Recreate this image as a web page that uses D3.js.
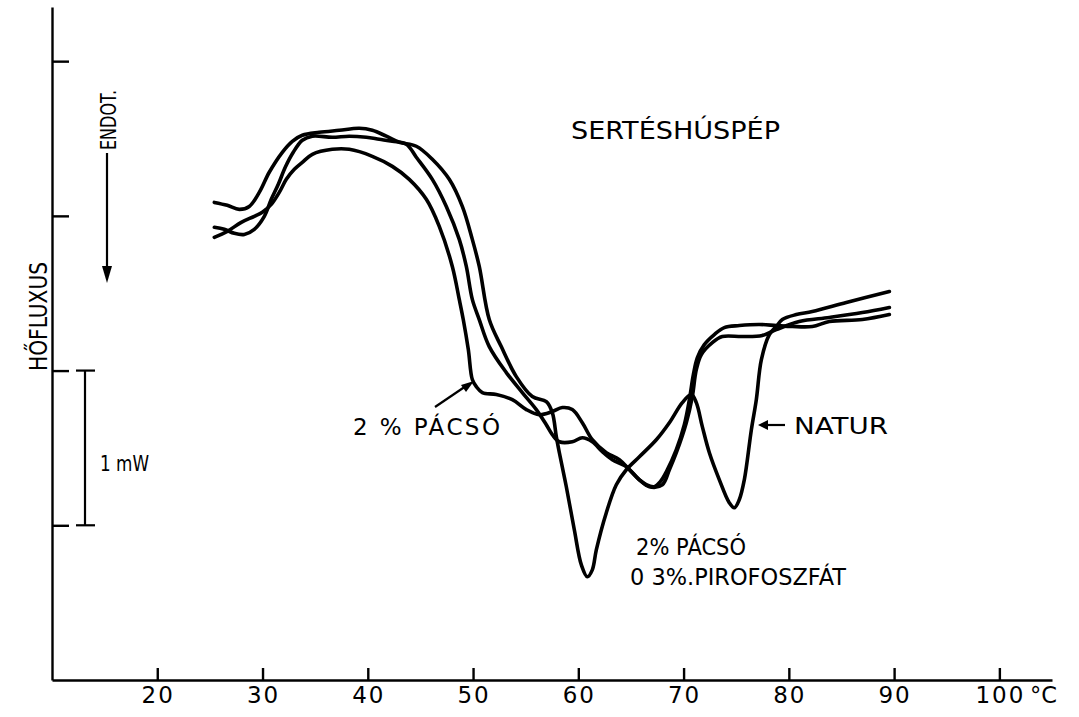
<!DOCTYPE html>
<html><head><meta charset="utf-8">
<script src="https://cdn.jsdelivr.net/npm/d3@7"></script>
<style>html,body{margin:0;padding:0;background:#fff}svg{display:block}text{font-family:"DejaVu Sans",sans-serif;fill:#000}</style>
</head><body>
<script>
// Temperature (°C) axis ticks
const xTicks = [20, 30, 40, 50, 60, 70, 80, 90, 100];
// Heat-flux ticks (mW, unlabelled)
const yTicks = [1, 2, 3, 4];

// NATUR curve: temperature (°C) and heat flux (mW)
const naturT = [25.42,26.65,27.79,28.74,29.69,30.64,31.88,32.83,33.78,35.39,37.29,39.19,40.43,41.76,42.99,44.61,46.13,47.74,48.98,49.93,50.59,51.54,52.68,54.11,55.63,56.96,57.53,57.91,58.20,58.86,59.62,60.29,60.86,61.33,61.71,62.66,63.61,64.56,65.80,67.41,68.65,69.88,70.74,71.21,71.78,72.45,73.40,74.34,74.82,75.29,75.77,76.44,76.91,77.39,78.15,78.81,79.38,80.71,82.23,85.46,89.55];
const naturV = [3.087,3.068,3.042,3.061,3.152,3.282,3.411,3.482,3.521,3.540,3.553,3.566,3.553,3.515,3.476,3.450,3.366,3.236,3.061,2.848,2.673,2.330,2.155,1.961,1.832,1.799,1.728,1.573,1.469,1.249,0.971,0.744,0.667,0.712,0.841,1.081,1.262,1.359,1.443,1.553,1.663,1.793,1.845,1.793,1.638,1.469,1.294,1.146,1.113,1.165,1.294,1.618,1.812,2.071,2.233,2.285,2.330,2.362,2.382,2.440,2.511];

// 2% PÁCSÓ + 0.3% PIROFOSZFÁT curve
const pirT = [25.42,26.37,27.32,28.27,29.22,30.17,30.83,31.50,32.16,32.92,33.78,34.73,36.63,38.24,39.86,41.09,42.33,43.66,44.61,46.13,47.46,48.69,49.36,49.93,50.59,51.54,53.16,54.68,56.01,56.96,57.53,58.20,59.43,60.38,61.33,62.28,63.23,64.56,65.80,66.75,67.98,68.65,69.31,70.26,70.83,71.21,71.69,72.73,73.68,75.58,77.48,78.81,80.99,83.85,86.98,89.55];
const pirV = [2.926,2.913,2.887,2.880,2.913,2.997,3.107,3.204,3.314,3.411,3.489,3.515,3.508,3.515,3.508,3.495,3.482,3.463,3.379,3.236,3.061,2.848,2.673,2.460,2.330,2.155,1.987,1.858,1.748,1.650,1.586,1.540,1.540,1.566,1.540,1.476,1.424,1.379,1.294,1.249,1.262,1.359,1.469,1.663,1.832,2.006,2.104,2.181,2.220,2.220,2.227,2.265,2.317,2.343,2.375,2.408];

// 2% PÁCSÓ curve
const pacsoT = [25.42,26.65,27.98,29.22,29.98,30.83,31.59,32.26,33.02,33.78,34.73,36.63,38.24,40.43,42.33,43.94,45.56,46.79,48.03,48.69,49.07,49.55,49.93,50.31,50.88,52.21,53.73,55.06,56.29,57.53,58.48,59.43,60.38,61.33,62.66,63.90,64.85,65.80,66.46,67.22,67.79,68.36,69.31,70.07,70.55,70.93,71.31,71.97,72.92,73.87,75.30,77.20,78.81,80.33,82.23,83.85,86.98,89.55];
const pacsoV = [2.861,2.900,2.958,2.997,3.023,3.074,3.152,3.236,3.301,3.346,3.398,3.430,3.430,3.385,3.320,3.236,3.107,2.932,2.673,2.460,2.330,2.136,1.942,1.896,1.858,1.845,1.812,1.748,1.715,1.735,1.761,1.748,1.663,1.553,1.469,1.424,1.359,1.294,1.262,1.249,1.282,1.346,1.489,1.650,1.812,1.974,2.084,2.168,2.233,2.278,2.291,2.298,2.291,2.285,2.285,2.317,2.330,2.362];

const W = 1079, H = 717;
const svg = d3.select("body").append("svg").attr("width", W).attr("height", H);

const x = d3.scaleLinear().domain([10, 105]).range([52, 1052]);
const y = d3.scaleLinear().domain([0, 4.35]).range([680, 7]);

// axes
const gx = svg.append("g").attr("transform", "translate(0,680)")
  .call(d3.axisTop(x).tickValues(xTicks).tickSize(12).tickSizeOuter(0).tickFormat(""));
gx.select(".domain").attr("stroke", "#000").attr("stroke-width", 2.4);
gx.selectAll(".tick line").attr("stroke", "#000").attr("stroke-width", 2.4);

const gy = svg.append("g").attr("transform", "translate(52,0)")
  .call(d3.axisRight(y).tickValues(yTicks).tickSize(17).tickSizeOuter(0).tickFormat(""));
gy.select(".domain").attr("stroke", "#000").attr("stroke-width", 2.4);
gy.selectAll(".tick line").attr("stroke", "#000").attr("stroke-width", 2.4);

// tick labels
svg.append("g").selectAll("text").data(xTicks).join("text")
  .attr("x", d => x(d) + 1).attr("y", 703)
  .attr("text-anchor", "middle")
  .attr("font-size", 23).attr("letter-spacing", 2)
  .text(d => d);
svg.append("text").attr("x", 1030).attr("y", 703).attr("font-size", 23)
  .attr("textLength", 27).attr("lengthAdjust", "spacingAndGlyphs").text("°C");

// curves
const line = d3.line().x(d => x(d[0])).y(d => y(d[1])).curve(d3.curveCatmullRom.alpha(0.5));
const series = [
  d3.zip(naturT, naturV),
  d3.zip(pirT, pirV),
  d3.zip(pacsoT, pacsoV)
];
svg.append("g").selectAll("path").data(series).join("path")
  .attr("d", line).attr("fill", "none").attr("stroke", "#000")
  .attr("stroke-width", 3.6).attr("stroke-linejoin", "round").attr("stroke-linecap", "round");

// scale bar 1 mW
const sb = svg.append("g").attr("stroke", "#000").attr("stroke-width", 2.2);
sb.append("line").attr("x1", 85).attr("x2", 85).attr("y1", y(2)).attr("y2", y(1));
sb.append("line").attr("x1", 76).attr("x2", 95).attr("y1", y(2)).attr("y2", y(2));
sb.append("line").attr("x1", 76).attr("x2", 95).attr("y1", y(1)).attr("y2", y(1));
svg.append("text").attr("x", 100).attr("y", 471).attr("font-size", 21)
  .attr("textLength", 49).attr("lengthAdjust", "spacingAndGlyphs").text("1 mW");

// axis title
svg.append("text").attr("transform", "translate(47,371) rotate(-90)")
  .attr("font-size", 25).attr("textLength", 109).attr("lengthAdjust", "spacingAndGlyphs").text("HŐFLUXUS");

// ENDOT arrow
svg.append("text").attr("transform", "translate(116,150) rotate(-90)")
  .attr("font-size", 22).attr("textLength", 60).attr("lengthAdjust", "spacingAndGlyphs").text("ENDOT.");
svg.append("line").attr("x1", 107).attr("x2", 107).attr("y1", 153).attr("y2", 270)
  .attr("stroke", "#000").attr("stroke-width", 2.2);
svg.append("path").attr("d", "M102,266 L112,266 L107,283 Z").attr("fill", "#000");

// title
svg.append("text").attr("x", 571).attr("y", 139).attr("font-size", 24)
  .attr("textLength", 209).attr("lengthAdjust", "spacingAndGlyphs").text("SERTÉSHÚSPÉP");

// annotations
svg.append("text").attr("x", 353).attr("y", 435).attr("font-size", 23)
  .attr("textLength", 147).attr("lengthAdjust", "spacing").text("2 % PÁCSÓ");
svg.append("line").attr("x1", 435).attr("y1", 407).attr("x2", 466).attr("y2", 386)
  .attr("stroke", "#000").attr("stroke-width", 2.2);
svg.append("path").attr("d", "M474,381 L461,385 L466,392 Z").attr("fill", "#000");

svg.append("text").attr("x", 636).attr("y", 555).attr("font-size", 23)
  .attr("textLength", 110).attr("lengthAdjust", "spacingAndGlyphs").text("2% PÁCSÓ");
svg.append("text").attr("x", 630).attr("y", 585).attr("font-size", 23)
  .attr("textLength", 216).attr("lengthAdjust", "spacingAndGlyphs").text("0 3%.PIROFOSZFÁT");

svg.append("text").attr("x", 794).attr("y", 434).attr("font-size", 23)
  .attr("textLength", 94).attr("lengthAdjust", "spacingAndGlyphs").text("NATUR");
svg.append("line").attr("x1", 766).attr("y1", 425).attr("x2", 785).attr("y2", 425)
  .attr("stroke", "#000").attr("stroke-width", 2.2);
svg.append("path").attr("d", "M758,425 L768,420 L768,430 Z").attr("fill", "#000");
</script>
</body></html>
